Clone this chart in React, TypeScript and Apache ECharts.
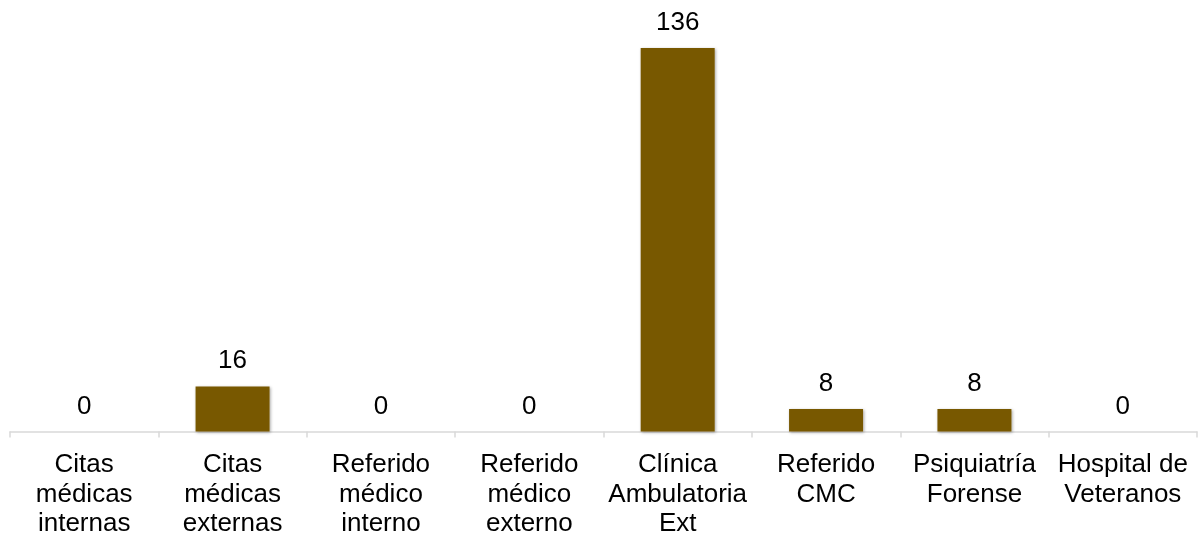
import React, { useEffect, useRef } from "react";
import * as echarts from "echarts";

const categories = [
  "Citas\nmédicas\ninternas",
  "Citas\nmédicas\nexternas",
  "Referido\nmédico\ninterno",
  "Referido\nmédico\nexterno",
  "Clínica\nAmbulatoria\nExt",
  "Referido\nCMC",
  "Psiquiatría\nForense",
  "Hospital de\nVeteranos",
];
const values = [0, 16, 0, 0, 136, 8, 8, 0];

export default function App() {
  const ref = useRef<HTMLDivElement>(null);
  useEffect(() => {
    if (!ref.current) return;
    const chart = echarts.init(ref.current, null, { renderer: "svg" });
    chart.setOption({
      animation: false,
      grid: { left: 10, right: 4, top: 48, bottom: 105, containLabel: false },
      xAxis: {
        type: "category",
        data: categories,
        axisLine: { lineStyle: { color: "#d9d9d9", width: 1.5 } },
        axisTick: { show: true, length: 6, lineStyle: { color: "#d9d9d9", width: 1.5 } },
        axisLabel: {
          interval: 0,
          color: "#000",
          fontFamily: "Liberation Sans, Arial, sans-serif",
          fontSize: 26,
          lineHeight: 29.5,
          margin: 17,
        },
      },
      yAxis: {
        type: "value",
        min: 0,
        max: 136,
        show: false,
        splitLine: { show: false },
      },
      series: [
        {
          type: "bar",
          data: values,
          barWidth: 74,
          itemStyle: {
            color: "#785800",
            shadowColor: "rgba(0,0,0,0.35)",
            shadowBlur: 3,
            shadowOffsetX: 1,
            shadowOffsetY: 1,
          },
          label: {
            show: true,
            position: "top",
            distance: 14,
            color: "#000",
            fontFamily: "Liberation Sans, Arial, sans-serif",
            fontSize: 26,
          },
        },
      ],
    });
    return () => chart.dispose();
  }, []);
  return (
    <div
      ref={ref}
      style={{ position: "fixed", left: 0, top: 0, width: 1201, height: 537 }}
    />
  );
}
